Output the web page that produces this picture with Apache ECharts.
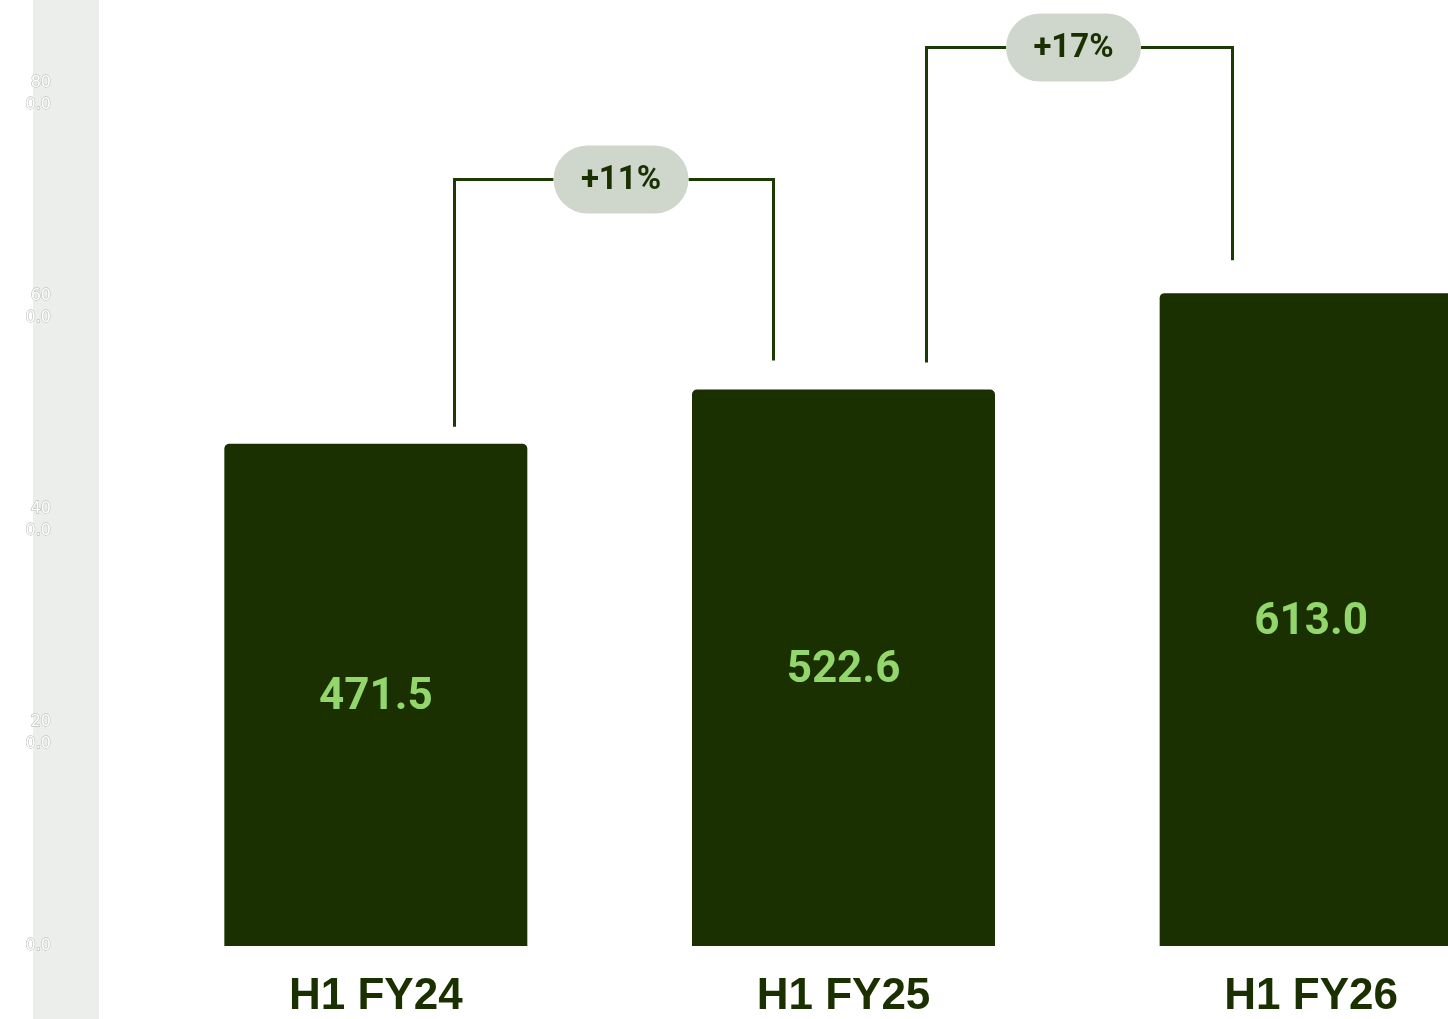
<!DOCTYPE html>
<html>
<head>
<meta charset="utf-8">
<title>H1 revenue by half-year</title>
<script src="https://cdn.jsdelivr.net/npm/echarts@6/dist/echarts.min.js"></script>
<style>
  html, body { margin: 0; padding: 0; background: #ffffff; overflow: hidden; }
  /* The plot runs past the right edge of the page, cutting the last bar */
  #chart { width: 1545px; height: 1019px; }
</style>
</head>
<body>
<div id="chart"></div>
<script>
// Half-year periods and their values
const categories = ['H1 FY24', 'H1 FY25', 'H1 FY26'];
const values = [471.5, 522.6, 613.0];

// Period-on-period growth callouts (between consecutive periods)
const growthLabels = ['+11%', '+17%'];

// Value axis ticks
const axisMin = 0;
const axisMax = 800;
const axisStep = 200;

const DARK = '#1a3000';
const LINE = '#1b3a04';
const LIGHT_GREEN = '#93d66c';
const PILL = '#cfd6cc';

// Bracket geometry: leg inset from each bar centre (fraction of band),
// rail rise above the taller bar and leg gaps above the bars (pixels),
// and a small horizontal nudge for each pill.
const legInsetFrom = [0.168, 0.177];
const legInsetTo = [0.151, 0.169];
const bracketRise = [210, 246];
const legGapFrom = [17, 27];
const legGapTo = [29, 33];
const pillNudge = [7, -6];

const chart = echarts.init(document.getElementById('chart'), null, { renderer: 'canvas' });

const growthData = growthLabels.map((g, i) => [i, values[i], values[i + 1]]);

function renderBracket(params, api) {
  const i = api.value(0);
  const band = api.size([1, 0])[0];
  const fromX = Math.round(api.coord([i, 0])[0] + band * legInsetFrom[i]) + 0.5;
  const toX = Math.round(api.coord([i + 1, 0])[0] - band * legInsetTo[i]) + 0.5;
  const fromTop = api.coord([i, api.value(1)])[1];
  const toTop = api.coord([i + 1, api.value(2)])[1];
  const railY = Math.round(Math.min(fromTop, toTop) - bracketRise[i]) + 0.5;
  const pillW = 135, pillH = 68;
  const cx = (fromX + toX) / 2 + pillNudge[i];
  const lineStyle = { stroke: LINE, lineWidth: 3, fill: null };
  return {
    type: 'group',
    children: [
      {
        type: 'polyline',
        shape: { points: [[fromX, fromTop - legGapFrom[i]], [fromX, railY], [cx - pillW / 2, railY]] },
        style: lineStyle
      },
      {
        type: 'polyline',
        shape: { points: [[cx + pillW / 2, railY], [toX, railY], [toX, toTop - legGapTo[i]]] },
        style: lineStyle
      },
      {
        type: 'rect',
        shape: { x: cx - pillW / 2, y: railY - pillH / 2, width: pillW, height: pillH, r: pillH / 2 },
        style: { fill: PILL }
      },
      {
        type: 'text',
        x: cx,
        y: railY + 1,
        style: {
          text: growthLabels[i],
          fill: DARK,
          font: 'bold 33px Roboto',
          align: 'center',
          verticalAlign: 'middle'
        }
      }
    ]
  };
}

chart.setOption({
  animation: false,
  backgroundColor: '#ffffff',
  graphic: [
    {
      type: 'rect',
      left: 33,
      top: 0,
      z: -10,
      shape: { width: 66, height: 1019 },
      style: { fill: '#eceeeb' }
    }
  ],
  grid: { left: 142, right: 0, top: 94, bottom: 71, containLabel: false },
  xAxis: {
    type: 'category',
    data: categories,
    axisLine: { show: false },
    axisTick: { show: false },
    axisLabel: {
      margin: 29,
      color: DARK,
      fontFamily: 'Liberation Sans',
      fontWeight: 'bold',
      fontSize: 44
    }
  },
  yAxis: {
    type: 'value',
    min: axisMin,
    max: axisMax,
    interval: axisStep,
    splitLine: { show: false },
    axisLine: { show: false },
    axisTick: { show: false },
    axisLabel: {
      margin: 91,
      align: 'right',
      fontFamily: 'DejaVu Sans',
      fontSize: 16,
      lineHeight: 22,
      color: '#ffffff',
      textBorderColor: '#c2c4c1',
      textBorderWidth: 1.3,
      formatter: v => {
        const s = v.toFixed(1);
        return s.length > 3 ? s.slice(0, s.length - 3) + '\n' + s.slice(-3) : s;
      }
    }
  },
  series: [
    {
      type: 'bar',
      data: values,
      barWidth: 303,
      itemStyle: { color: DARK, borderRadius: [5, 5, 0, 0] },
      label: {
        show: true,
        position: 'inside',
        offset: [0, 3],
        color: LIGHT_GREEN,
        fontFamily: 'Roboto',
        fontWeight: 'bold',
        fontSize: 44,
        formatter: p => p.value.toFixed(1)
      }
    },
    {
      type: 'custom',
      clip: false,
      silent: true,
      encode: { x: 0, y: [1, 2] },
      data: growthData,
      renderItem: renderBracket,
      z: 5
    }
  ]
});
</script>
</body>
</html>
